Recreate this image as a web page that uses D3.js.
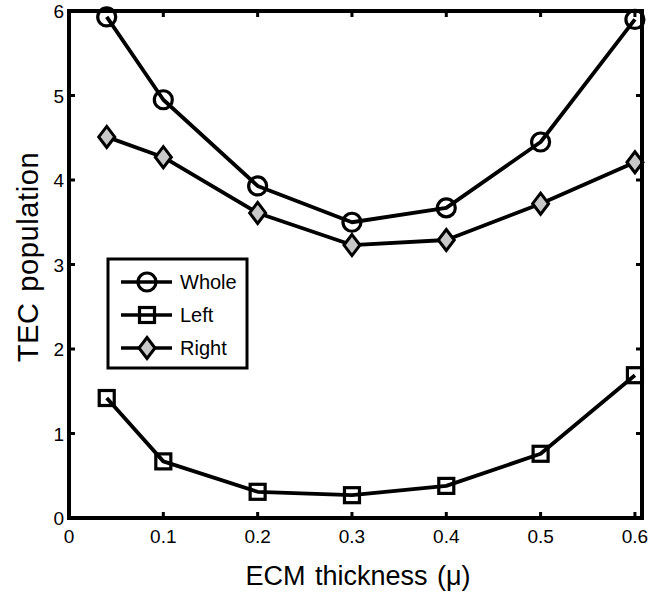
<!DOCTYPE html>
<meta charset="utf-8">
<style>
body { margin: 0; background: #fff; }
text { font-family: "Liberation Sans", Arial, sans-serif; fill: #000; }
.tick-label { font-size: 19px; }
.axis-title { font-size: 27px; word-spacing: 2px; }
.y-title { font-size: 29px; letter-spacing: 0.6px; word-spacing: 2px; }
.legend text { font-size: 20px; }
</style>
<svg width="649" height="601"></svg>
<script src="https://d3js.org/d3.v7.min.js"></script>
<script>

var thickness = [0.04, 0.1, 0.2, 0.3, 0.4, 0.5, 0.6];
var whole = [5.93, 4.95, 3.93, 3.50, 3.67, 4.45, 5.90];
var left  = [1.42, 0.67, 0.31, 0.27, 0.38, 0.76, 1.69];
var right = [4.51, 4.27, 3.61, 3.23, 3.29, 3.72, 4.21];
var xTicks = [0, 0.1, 0.2, 0.3, 0.4, 0.5, 0.6];
var yTicks = [0, 1, 2, 3, 4, 5, 6];
var seriesNames = ["Whole", "Left", "Right"];

var svg = d3.select("svg");

var x = d3.scaleLinear().domain([0, 0.6075]).range([69, 642]);
var y = d3.scaleLinear().domain([0, 6]).range([518, 11]);

var series = [
  {name: seriesNames[0], values: whole, marker: "circle"},
  {name: seriesNames[1], values: left, marker: "square"},
  {name: seriesNames[2], values: right, marker: "diamond"}
];

function drawMarker(g, type, cx, cy) {
  if (type === "circle") {
    g.append("circle").attr("cx", cx).attr("cy", cy).attr("r", 9)
      .attr("fill", "none").attr("stroke", "#000").attr("stroke-width", 3.2);
  } else if (type === "square") {
    g.append("rect").attr("x", cx - 7.5).attr("y", cy - 7.5).attr("width", 15).attr("height", 15)
      .attr("fill", "none").attr("stroke", "#000").attr("stroke-width", 3.2);
  } else {
    var w = 8, h = 10.5;
    g.append("path")
      .attr("d", "M" + cx + "," + (cy - h) + "L" + (cx + w) + "," + cy + "L" + cx + "," + (cy + h) + "L" + (cx - w) + "," + cy + "Z")
      .attr("fill", "#c8c8c8").attr("stroke", "#000").attr("stroke-width", 3);
  }
}

// lines
var line = d3.line()
    .x(function(d, i) { return x(thickness[i]); })
    .y(function(d) { return y(d); });

series.forEach(function(s) {
  svg.append("path")
      .datum(s.values)
      .attr("d", line)
      .attr("fill", "none")
      .attr("stroke", "#000")
      .attr("stroke-width", 3.8)
      .attr("stroke-linejoin", "round");
  var g = svg.append("g");
  s.values.forEach(function(v, i) { drawMarker(g, s.marker, x(thickness[i]), y(v)); });
});

// frame
svg.append("rect")
    .attr("x", x.range()[0]).attr("y", y.range()[1])
    .attr("width", x.range()[1] - x.range()[0])
    .attr("height", y.range()[0] - y.range()[1])
    .attr("fill", "none").attr("stroke", "#000").attr("stroke-width", 4);

// ticks (inward, mirrored)
var tl = 6;
xTicks.forEach(function(t) {
  svg.append("line").attr("x1", x(t)).attr("x2", x(t)).attr("y1", 518).attr("y2", 518 - tl)
    .attr("stroke", "#000").attr("stroke-width", 3);
  svg.append("line").attr("x1", x(t)).attr("x2", x(t)).attr("y1", 11).attr("y2", 11 + tl)
    .attr("stroke", "#000").attr("stroke-width", 3);
  svg.append("text").attr("class", "tick-label")
    .attr("x", x(t)).attr("y", 543).attr("text-anchor", "middle")
    .text(t === 0 ? "0" : d3.format(".1f")(t));
});
yTicks.forEach(function(t) {
  svg.append("line").attr("x1", 69).attr("x2", 69 + tl).attr("y1", y(t)).attr("y2", y(t))
    .attr("stroke", "#000").attr("stroke-width", 3);
  svg.append("line").attr("x1", 642).attr("x2", 642 - tl).attr("y1", y(t)).attr("y2", y(t))
    .attr("stroke", "#000").attr("stroke-width", 3);
  svg.append("text").attr("class", "tick-label")
    .attr("x", 64).attr("y", y(t) + 7).attr("text-anchor", "end")
    .text(t);
});

// axis titles
svg.append("text").attr("class", "axis-title")
    .attr("x", 358).attr("y", 585).attr("text-anchor", "middle")
    .text("ECM thickness (μ)");
svg.append("text").attr("class", "y-title")
    .attr("transform", "translate(38,257) rotate(-90)")
    .attr("text-anchor", "middle")
    .text("TEC population");

// legend
var legend = svg.append("g").attr("class", "legend");
legend.append("rect").attr("x", 108).attr("y", 259).attr("width", 139).attr("height", 109)
  .attr("fill", "#fff").attr("stroke", "#000").attr("stroke-width", 3);
series.forEach(function(s, i) {
  var ly = 282 + i * 33;
  legend.append("line").attr("x1", 121).attr("x2", 172).attr("y1", ly).attr("y2", ly)
    .attr("stroke", "#000").attr("stroke-width", 3.5);
  drawMarker(legend, s.marker, 147, ly);
  legend.append("text").attr("x", 180).attr("y", ly + 7).text(s.name);
});

</script>
